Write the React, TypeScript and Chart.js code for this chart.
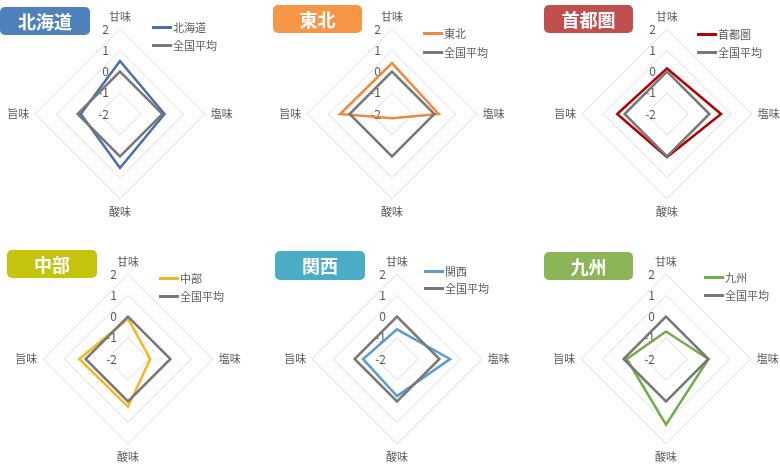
import React, { useEffect, useRef } from "react";
import { Chart, registerables } from "chart.js";

Chart.register(...registerables);

// ---- data ----
const axisLabels = ["甘味", "塩味", "酸味", "旨味"];
const tickValues = [-2, -1, 0, 1, 2];
const nationalLabel = "全国平均";
const nationalAverage = [0, 0, 0, 0];
const regionNames = ["北海道", "東北", "首都圏", "中部", "関西", "九州"];
const hokkaido = [0.5, 0.1, 0.55, -0.15];
const tohoku = [0.4, 0.2, -1.8, 0.45];
const shutoken = [0.15, 0.55, 0.03, 0.35];
const chubu = [-0.1, -0.95, 0.25, 0.3];
const kansai = [-0.6, 0.5, -0.25, -0.4];
const kyushu = [-0.7, 0, 1.1, -0.15];
const regionValues = [hokkaido, tohoku, shutoken, chubu, kansai, kyushu];

// ---- styles / layout ----
const FONT = "'Noto Sans CJK JP', 'Noto Sans', sans-serif";
const TEXT_COLOR = "#595959";
const GRAY = "#787878";
const CANVAS_W = 250;
const CANVAS_H = 208;

const panels = [
  { cx: 120, cy: 114, box: [0, 7, 90, 28], boxColor: "#4f81bd", line: "#4a6fad", legend: [152, 27, 18] },
  { cx: 392, cy: 114, box: [273, 5, 89, 28], boxColor: "#f79646", line: "#f0883e", legend: [423, 33, 19] },
  { cx: 667, cy: 114, box: [544, 5, 89, 28], boxColor: "#c0504d", line: "#b40000", legend: [697, 34, 18] },
  { cx: 128, cy: 359, box: [7, 250, 90, 28], boxColor: "#c4c40c", line: "#f2b81f", legend: [159, 278, 18] },
  { cx: 397, cy: 359, box: [275, 251, 90, 29], boxColor: "#4bacc6", line: "#5b9bd5", legend: [424, 271, 17] },
  { cx: 666, cy: 359, box: [544, 252, 89, 28], boxColor: "#8db456", line: "#70ad47", legend: [704, 277, 18] },
];

const tickLabelPlugin = {
  id: "tickLabelsLeft",
  beforeDatasetsDraw(chart: any) {
    const scale = chart.scales.r;
    const ctx = chart.ctx;
    ctx.save();
    ctx.font = `12px ${FONT}`;
    ctx.fillStyle = TEXT_COLOR;
    ctx.textAlign = "right";
    ctx.textBaseline = "middle";
    tickValues.forEach((v) => {
      const d = scale.getDistanceFromCenterForValue(v);
      ctx.fillText(String(v), scale.xCenter - 11, scale.yCenter - d);
    });
    ctx.restore();
  },
};

function RadarPanel({ idx }: { idx: number }) {
  const ref = useRef<HTMLCanvasElement | null>(null);
  const p = panels[idx];
  useEffect(() => {
    if (!ref.current) return;
    const chart = new Chart(ref.current, {
      type: "radar",
      data: {
        labels: axisLabels,
        datasets: [
          {
            label: regionNames[idx],
            data: regionValues[idx],
            borderColor: p.line,
            backgroundColor: "transparent",
            borderWidth: 2.5,
            pointRadius: 0,
            borderJoinStyle: "miter",
            fill: false,
            order: 1,
          },
          {
            label: nationalLabel,
            data: nationalAverage,
            borderColor: GRAY,
            backgroundColor: "transparent",
            borderWidth: 2.5,
            pointRadius: 0,
            borderJoinStyle: "miter",
            fill: false,
            order: 0,
          },
        ],
      },
      options: {
        responsive: false,
        animation: false,
        devicePixelRatio: 1,
        layout: { padding: 0 },
        plugins: { legend: { display: false }, tooltip: { enabled: false } },
        scales: {
          r: {
            min: -2,
            max: 2,
            beginAtZero: false,
            ticks: { display: false, stepSize: 1 },
            angleLines: { display: false },
            grid: { circular: false, color: "#d9d9d9", lineWidth: 1 },
            pointLabels: {
              display: true,
              padding: 6,
              color: TEXT_COLOR,
              font: { size: 11, family: FONT },
            },
          },
        },
      } as any,
      plugins: [tickLabelPlugin],
    });
    return () => chart.destroy();
  }, [idx]);

  const [bx, by, bw, bh] = p.box;
  const [lx, ly, lgap] = p.legend;
  const legendItems = [
    { name: regionNames[idx], color: p.line },
    { name: nationalLabel, color: GRAY },
  ];
  return (
    <>
      <canvas
        ref={ref}
        width={CANVAS_W}
        height={CANVAS_H}
        style={{
          position: "absolute",
          left: p.cx - CANVAS_W / 2,
          top: p.cy - CANVAS_H / 2,
          width: CANVAS_W,
          height: CANVAS_H,
        }}
      />
      <div
        style={{
          position: "absolute",
          left: bx,
          top: by,
          width: bw,
          height: bh,
          lineHeight: `${bh}px`,
          background: p.boxColor,
          borderRadius: 5,
          color: "#ffffff",
          fontWeight: 700,
          fontSize: 18,
          textAlign: "center",
          fontFamily: FONT,
        }}
      >
        {regionNames[idx]}
      </div>
      {legendItems.map((it, i) => (
        <div
          key={i}
          style={{
            position: "absolute",
            left: lx,
            top: ly + i * lgap - 8,
            height: 16,
            display: "flex",
            alignItems: "center",
            fontFamily: FONT,
            fontSize: 11,
            color: TEXT_COLOR,
            whiteSpace: "nowrap",
          }}
        >
          <span style={{ display: "inline-block", width: 20, height: 3, background: it.color, marginRight: 1 }} />
          <span>{it.name}</span>
        </div>
      ))}
    </>
  );
}

export default function App() {
  return (
    <div
      style={{
        position: "fixed",
        left: 0,
        top: 0,
        width: 780,
        height: 473,
        overflow: "hidden",
        background: "#ffffff",
      }}
    >
      {panels.map((_, i) => (
        <RadarPanel key={i} idx={i} />
      ))}
    </div>
  );
}
